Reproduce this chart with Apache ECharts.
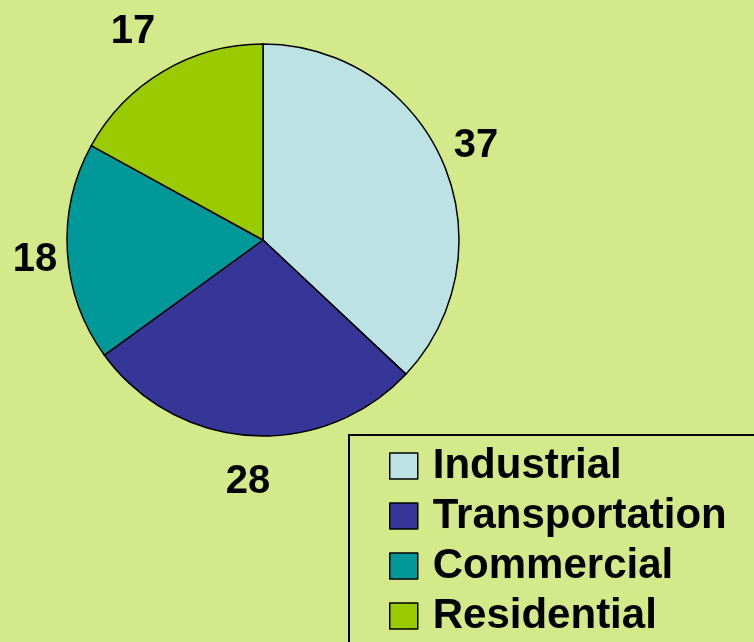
<!DOCTYPE html>
<html><head><meta charset="utf-8">
<script src="https://cdn.jsdelivr.net/npm/echarts@6/dist/echarts.min.js"></script>
<style>html,body{margin:0;padding:0;background:#d4e98a;}#c{width:754px;height:642px;}</style>
</head><body><div id="c"></div>
<script>
const categories = ['Industrial', 'Transportation', 'Commercial', 'Residential'];
const values = [37, 28, 18, 17];
const colors = ['#bde2e4', '#363698', '#009898', '#9acb00'];

const CX = 263, CY = 240, R = 196;
// label offsets from pie centre
const labelOffsets = [[213, -94], [-15, 242], [-228, 20], [-130, -208]];

const chart = echarts.init(document.getElementById('c'));
chart.setOption({
  backgroundColor: '#d4e98a',
  animation: false,
  legend: {
    orient: 'vertical',
    left: 389, top: 445,
    height: 400,
    padding: 0,
    icon: 'rect',
    itemWidth: 28, itemHeight: 26, itemGap: 8,
    data: categories,
    itemStyle: { borderColor: '#000', borderWidth: 1.5 },
    textStyle: { fontFamily: 'Liberation Sans, Arial, sans-serif', fontWeight: 'bold', fontSize: 42, color: '#000', padding: [0, 0, 0, 10] }
  },
  graphic: [{
    type: 'rect', shape: { x: 349, y: 435, width: 440, height: 240 },
    style: { fill: 'none', stroke: '#000', lineWidth: 2 }, z: 0
  }],
  series: [{
    type: 'pie',
    center: [CX, CY],
    radius: R,
    startAngle: 90,
    clockwise: true,
    avoidLabelOverlap: false,
    data: categories.map((n, i) => ({ name: n, value: values[i], itemStyle: { color: colors[i] } })),
    itemStyle: { borderColor: '#000', borderWidth: 1.5 },
    emphasis: { disabled: true },
    label: {
      show: true, position: 'inside', formatter: '{c}',
      fontFamily: 'Liberation Sans, Arial, sans-serif', fontWeight: 'bold', fontSize: 40, color: '#000'
    },
    labelLine: { show: false },
    labelLayout: function (p) {
      const o = labelOffsets[p.dataIndex];
      return { x: CX + o[0], y: CY + o[1], align: 'center', verticalAlign: 'middle' };
    }
  }]
});
</script></body></html>
